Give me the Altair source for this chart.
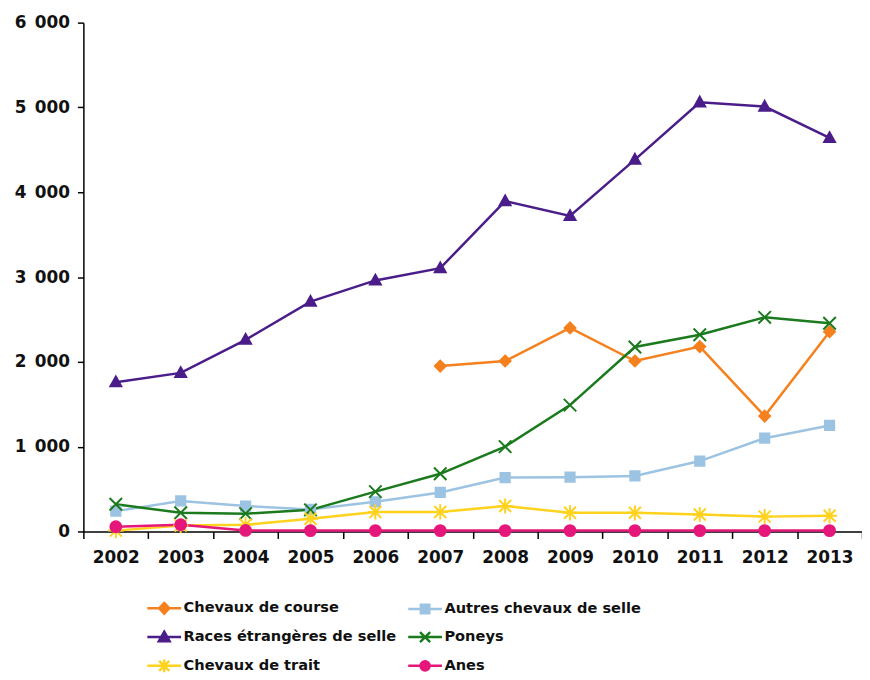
import altair as alt
import pandas as pd

years = list(range(2002, 2014))
series_names = [
    "Chevaux de course",
    "Autres chevaux de selle",
    "Races étrangères de selle",
    "Poneys",
    "Chevaux de trait",
    "Anes",
]
course = [None, None, None, None, None, 1950, 2010, 2400, 2010, 2180, 1360, 2355]
autres = [240, 360, 300, 260, 350, 460, 635, 640, 655, 830, 1100, 1250]
races = [1760, 1870, 2260, 2710, 2960, 3105, 3895, 3720, 4385, 5060, 5010, 4640]
poneys = [320, 220, 210, 255, 470, 680, 1000, 1490, 2175, 2320, 2525, 2455]
trait = [10, 70, 80, 150, 230, 230, 300, 220, 220, 200, 175, 185]
anes = [55, 80, 12, 10, 10, 10, 10, 10, 10, 10, 10, 10]

colors = ["#F5801E", "#9DC3E2", "#4A1D8A", "#1B7A1E", "#FFD21E", "#E5177A"]

point_shapes = [
    "M0,-1L1,0L0,1L-1,0Z",
    "M-0.85,-0.85H0.85V0.85H-0.85Z",
    "M0,-1.05L1,0.75H-1Z",
    "M-1.15,-1.15L1.15,1.15M-1.15,1.15L1.15,-1.15",
    "M-1.1,-1.1L1.1,1.1M-1.1,1.1L1.1,-1.1M0,-1.4V1.4M-1.4,0H1.4",
    "circle",
]
legend_shapes = [
    "M-1,0H1M0,-0.32L0.3,0L0,0.32L-0.3,0Z",
    "M-1,0H1M-0.25,-0.25H0.25V0.25H-0.25Z",
    "M-1,0H1M0,-0.32L0.32,0.24H-0.32Z",
    "M-1,0H1M-0.3,-0.3L0.3,0.3M-0.3,0.3L0.3,-0.3",
    "M-1,0H1M-0.3,-0.3L0.3,0.3M-0.3,0.3L0.3,-0.3M0,-0.38V0.38",
    "M-1,0H1M-0.27,0A0.27,0.27,0,1,0,0.27,0A0.27,0.27,0,1,0,-0.27,0Z",
]

# legend is filled column by column: reorder so rows read as in the reference
legend_order = [0, 2, 4, 1, 3, 5]
legend_domain = [series_names[i] for i in legend_order]
legend_colors = [colors[i] for i in legend_order]
legend_shape_range = [legend_shapes[i] for i in legend_order]

rows = []
for name, vals in zip(series_names, [course, autres, races, poneys, trait, anes]):
    for y, v in zip(years, vals):
        if v is not None:
            rows.append({"year": y, "series": name, "value": v})
df = pd.DataFrame(rows)

FONT = "DejaVu Sans"


def cscale():
    return alt.Scale(domain=series_names, range=colors)


def lscale():
    return alt.Scale(domain=legend_domain, range=legend_colors)


legend = alt.Legend(
    title=None,
    orient="none",
    legendX=63,
    legendY=572,
    columns=2,
    columnPadding=6,
    rowPadding=-1,
    labelFont=FONT,
    labelFontWeight="bold",
    labelFontSize=14.7,
    labelColor="#111111",
    labelOffset=1,
    symbolSize=1156,
    symbolStrokeWidth=2.5,
    symbolOpacity=1,
    labelLimit=400,
)

x_enc = alt.X(
    "year:O",
    scale=alt.Scale(type="band", paddingInner=0, paddingOuter=0),
    bandPosition=0.5,
    axis=alt.Axis(
        title=None,
        tickBand="extent",
        labelAngle=0,
        labelFont=FONT,
        labelFontWeight="bold",
        labelFontSize=17,
        labelColor="#111111",
        labelPadding=11,
        tickSize=7,
        tickColor="#000000",
        tickWidth=1.5,
        domainColor="#000000",
        domainWidth=1.5,
        grid=False,
    ),
)
y_enc = alt.Y(
    "value:Q",
    scale=alt.Scale(domain=[0, 6000], nice=False),
    axis=alt.Axis(
        title=None,
        values=[0, 1000, 2000, 3000, 4000, 5000, 6000],
        labelExpr="replace(format(datum.value, ','), ',', '\u2002')",
        labelFont=FONT,
        labelFontWeight="bold",
        labelFontSize=17,
        labelColor="#111111",
        labelPadding=8,
        tickSize=6,
        tickColor="#000000",
        tickWidth=1.5,
        domainColor="#000000",
        domainWidth=1.5,
        grid=False,
    ),
)

base = alt.Chart(df)

lines = base.mark_line(strokeWidth=2.5).encode(
    x=x_enc,
    y=y_enc,
    color=alt.Color("series:N", scale=cscale(), legend=None),
    detail="series:N",
)

points = base.mark_point(filled=True, size=120, strokeWidth=2, opacity=1).encode(
    x=x_enc,
    y=y_enc,
    color=alt.Color("series:N", scale=cscale(), legend=None),
    stroke=alt.Stroke("series:N", scale=cscale(), legend=None),
    shape=alt.Shape("series:N", scale=alt.Scale(domain=series_names, range=point_shapes), legend=None),
)

legend_layer = (
    base.transform_filter("false")
    .mark_point(filled=True, strokeWidth=2.5, opacity=1)
    .encode(
        x=x_enc,
        y=y_enc,
        color=alt.Color("series:N", scale=lscale(), legend=legend),
        stroke=alt.Stroke("series:N", scale=lscale(), legend=legend),
        shape=alt.Shape("series:N", scale=alt.Scale(domain=legend_domain, range=legend_shape_range), legend=legend),
    )
)

chart = (
    alt.layer(lines, points, legend_layer)
    .resolve_scale(color="independent", shape="independent", stroke="independent")
    .properties(
        width=785,
        height=513,
        autosize=alt.AutoSizeParams(type="none"),
        padding={"left": 76, "top": 12, "right": 0, "bottom": 146},
        background="white",
    )
    .configure_view(stroke=None)
)

chart.save("out.html", embed_options={"renderer": "svg", "actions": False})
